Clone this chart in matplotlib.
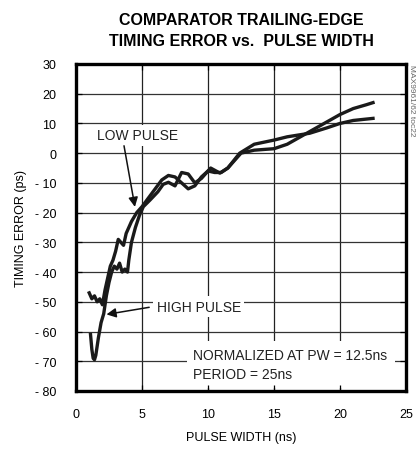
import numpy as np
import matplotlib
matplotlib.use("Agg")
import matplotlib.pyplot as plt

plt.rcParams['font.family'] = ['Liberation Sans', 'DejaVu Sans']

# low pulse curve
low_x = [1.0, 1.2, 1.4, 1.6, 1.8, 2.0, 2.2, 2.4, 2.6, 2.8, 3.0, 3.2, 3.4, 3.6,
         3.8, 4.2, 4.6, 5.0, 5.5, 6.0, 6.5, 7.0, 7.5, 8.0, 8.5, 9.0, 9.5,
         10.0, 10.5, 11.0, 11.5, 12.0, 12.5, 13.5, 15.0, 16.0, 17.0, 18.0,
         19.0, 20.0, 21.0, 22.0, 22.5]
low_y = [-47, -49, -48, -50, -49, -51, -46, -42, -38, -36, -33, -29, -30, -31,
         -27, -23, -20, -18, -15, -12, -9, -7.5, -8, -10, -12, -11, -8,
         -6, -6.5, -6.5, -5, -2.5, 0, 1, 1.5, 3, 5.5, 8,
         10.5, 13, 15, 16.3, 17]

# high pulse curve
high_x = [1.1, 1.2, 1.3, 1.4, 1.5, 1.7, 1.9, 2.1, 2.3, 2.5, 2.7, 2.9, 3.1,
          3.3, 3.5, 3.7, 3.9, 4.0, 4.2, 4.5, 4.8, 5.1, 5.6, 6.2, 6.6, 7.0,
          7.5, 8.0, 8.5, 9.0, 9.5, 10.2, 10.9, 11.5, 12.4, 13.5, 15.0, 16.0,
          17.7, 19.0, 20.0, 21.0, 22.5]
high_y = [-61, -66, -69, -69.5, -68, -62, -57, -54, -48, -43.5, -40, -38, -39,
          -37, -40, -39, -40, -36, -30, -25, -21, -18, -15.8, -13, -10.5, -9.8,
          -11, -6.5, -7, -10, -8.5, -5, -6.7, -5, 0, 3, 4.4, 5.5,
          6.7, 8.5, 10, 11, 11.7]

x_ticks = [0, 5, 10, 15, 20, 25]
y_ticks = [30, 20, 10, 0, -10, -20, -30, -40, -50, -60, -70, -80]

fig = plt.figure(figsize=(4.16, 4.56), dpi=100)
ax = fig.add_axes([0.1827, 0.1404, 0.7933, 0.7171])

for xv in x_ticks[1:-1]:
    ax.axvline(xv, color='#222222', lw=0.9, zorder=1)
for yv in y_ticks[1:-1]:
    ax.axhline(yv, color='#333333', lw=0.9, zorder=1)

ax.plot(low_x, low_y, color='#1a1a1a', lw=2.4, zorder=2.2, solid_joinstyle='round')
ax.plot(high_x, high_y, color='#1a1a1a', lw=2.4, zorder=2.2, solid_joinstyle='round')

ax.set_xlim(0, 25)
ax.set_ylim(-80, 30)
ax.set_xticks(x_ticks)
ax.set_yticks(y_ticks)
ax.set_yticklabels([str(v).replace('-', '- ') for v in y_ticks])
ax.tick_params(direction='in', length=4, width=0.9, labelsize=9, top=True, right=True)
ax.tick_params(axis='y', pad=14)
ax.tick_params(axis='x', pad=12)
ax.set_axisbelow(False)
for s in ax.spines.values():
    s.set_linewidth(2.4)

ax.set_xlabel('PULSE WIDTH (ns)', fontsize=9, labelpad=8)
ax.set_ylabel('TIMING ERROR (ps)', fontsize=9, labelpad=6)

box = dict(facecolor='white', edgecolor='none', pad=2.5)
ax.text(1.6, 6, 'LOW PULSE', fontsize=10, ha='left', va='center', color='#222222',
        bbox=box, zorder=2)
ax.annotate('', xy=(4.5, -19), xytext=(3.6, 3.4),
            arrowprops=dict(arrowstyle='-|>', color='#111111', lw=1.1,
                            mutation_scale=14), zorder=2.3)
ax.text(6.1, -51.7, 'HIGH PULSE', fontsize=10, ha='left', va='center', color='#222222',
        bbox=box, zorder=2)
ax.annotate('', xy=(2.1, -54.4), xytext=(5.75, -51.7),
            arrowprops=dict(arrowstyle='-|>', color='#111111', lw=1.1,
                            mutation_scale=14), zorder=2.3)
ax.text(8.9, -71.2, 'NORMALIZED AT PW = 12.5ns\nPERIOD = 25ns', fontsize=10,
        ha='left', va='center', color='#222222', linespacing=1.45,
        bbox=dict(facecolor='white', edgecolor='none', pad=5), zorder=2)

fig.text(0.58, 0.955, 'COMPARATOR TRAILING-EDGE', fontsize=11.5, fontweight='bold',
         ha='center', va='center')
fig.text(0.58, 0.909, 'TIMING ERROR vs.  PULSE WIDTH', fontsize=11.5, fontweight='bold',
         ha='center', va='center')
fig.text(0.988, 0.857, 'MAX9961/62 toc22', fontsize=6, color='#666666',
         rotation=-90, ha='center', va='top')

fig.savefig('out.png', dpi=100)
